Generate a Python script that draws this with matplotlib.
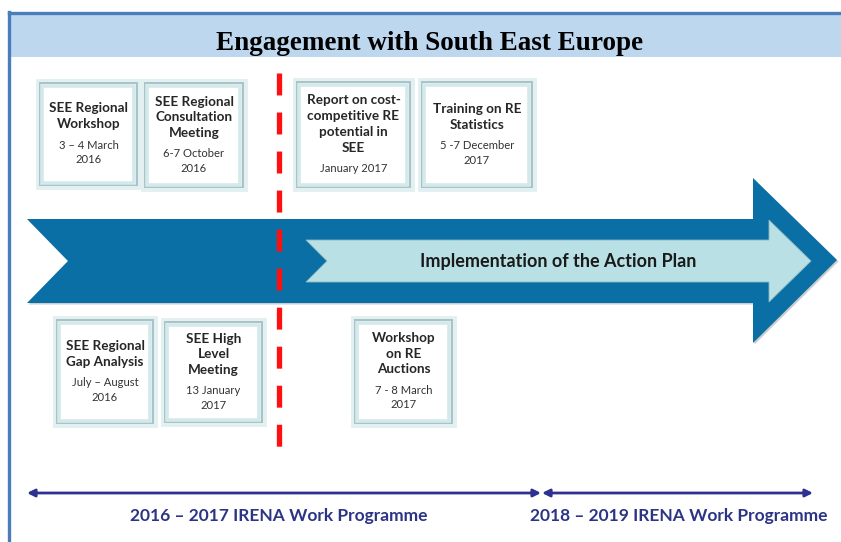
import matplotlib.pyplot as plt
from matplotlib.patches import Polygon, Rectangle, FancyArrowPatch

plt.rcParams['lines.scale_dashes'] = False

# ---- content ----
title = "Engagement with South East Europe"
top_events = ["SEE Regional\nWorkshop", "SEE Regional\nConsultation\nMeeting",
              "Report on cost-\ncompetitive RE\npotential in\nSEE", "Training on RE\nStatistics"]
top_dates = ["3 – 4 March\n2016", "6-7 October\n2016", "January 2017", "5 -7 December\n2017"]
bottom_events = ["SEE Regional\nGap Analysis", "SEE High\nLevel\nMeeting", "Workshop\non RE\nAuctions"]
bottom_dates = ["July – August\n2016", "13 January\n2017", "7 - 8 March\n2017"]
band_label = "Implementation of the Action Plan"
programmes = ["2016 – 2017 IRENA Work Programme", "2018 – 2019 IRENA Work Programme"]

# ---- layout (pixel space) ----
top_boxes = [(40, 83, 97, 102), (145, 83, 98, 104), (297, 82, 113, 105), (422, 82, 110, 105)]
bottom_boxes = [(57, 320, 96, 103), (165, 322, 97, 100), (355, 320, 97, 103)]
prog_spans = [(27, 541), (542, 813)]
prog_text_x = [279, 679]

dark_blue = '#0a6fa5'
light_cyan = '#b8e0e5'
navy = '#2e3192'

fig = plt.figure(figsize=(8.41, 5.42), dpi=100)
ax = fig.add_axes([0, 0, 1, 1])
ax.set_xlim(0, 841)
ax.set_ylim(542, 0)
ax.axis('off')

# header band + frame
header = Rectangle((10, 13), 831, 44, facecolor='#bdd7ee', edgecolor='none', zorder=1)
ax.add_patch(header)
ax.plot([9.5, 9.5], [12, 542], color='#4a7ebb', lw=2.4, zorder=3)
ax.plot([9.5, 841], [12.5, 12.5], color='#4a7ebb', lw=2.4, zorder=3)
t = ax.text(430, 50, title, fontsize=19.5, fontweight='bold', family='Liberation Serif',
            ha='center', va='baseline', color='black', zorder=2)
clip = Rectangle((10, 13), 831, 41, transform=ax.transData)
t.set_clip_path(clip)

# main arrow with soft shadow
big = [(27, 219), (753, 219), (753, 178), (837, 260), (753, 343), (753, 303), (27, 303), (68, 261)]
ax.add_patch(Polygon([(x + 1.5, y + 1.5) for x, y in big], closed=True, facecolor='#9a9a9a',
                     edgecolor='none', alpha=0.5, zorder=2))
ax.add_patch(Polygon(big, closed=True, facecolor=dark_blue, edgecolor='none', zorder=3))
inner = [(306, 240), (769, 240), (769, 220), (811, 261), (769, 302), (769, 282), (306, 282), (327, 261)]
ax.add_patch(Polygon(inner, closed=True, facecolor=light_cyan, edgecolor='#8fb9c0', lw=0.6, zorder=4))
ax.text(558, 262, band_label, fontsize=13.0, fontweight='bold', family='Lato',
        ha='center', va='center', color='#1a1a1a', zorder=5)

# red dashed divider
ax.plot([279.5, 279.5], [73, 447], color='#ff1010', lw=3.8, dashes=(15.8, 12.3),
        solid_capstyle='butt', dash_capstyle='butt', zorder=6)


def draw_box(x, y, w, h, name, date):
    # glow + border
    ax.add_patch(Rectangle((x - 2, y - 2), w + 4, h + 4, facecolor='none',
                           edgecolor='#e2f0f2', lw=3.5, zorder=7))
    ax.add_patch(Rectangle((x, y), w, h, facecolor='white', edgecolor='#a9c2c6', lw=1.4, zorder=7))
    ax.add_patch(Rectangle((x + 2.5, y + 2.5), w - 5, h - 5, facecolor='none',
                           edgecolor='#d3e9ec', lw=2.6, zorder=8))
    nl = name.split('\n')
    dl = date.split('\n')
    span = (len(nl) - 1) * 15.7 + 21 + (len(dl) - 1) * 14.5
    yy = y + h / 2 - span / 2
    cx = x + w / 2
    for line in nl:
        ax.text(cx, yy, line, fontsize=9.7, fontweight='bold', family='Lato',
                ha='center', va='center', color='#262626', zorder=9)
        yy += 15.7
    yy += 21 - 15.7
    for line in dl:
        ax.text(cx, yy, line, fontsize=8.1, family='Lato',
                ha='center', va='center', color='#333333', zorder=9)
        yy += 14.5


for (x, y, w, h), n, d in zip(top_boxes, top_events, top_dates):
    draw_box(x, y, w, h, n, d)
for (x, y, w, h), n, d in zip(bottom_boxes, bottom_events, bottom_dates):
    draw_box(x, y, w, h, n, d)

# work programme arrows
for (x0, x1), tx, lab in zip(prog_spans, prog_text_x, programmes):
    ax.add_patch(FancyArrowPatch((x0, 493), (x1, 493), arrowstyle='<|-|>', mutation_scale=11,
                                 color=navy, lw=2.0, shrinkA=0, shrinkB=0, zorder=5))
    ax.text(tx, 516, lab, fontsize=12.5, fontweight='bold', family='Lato',
            ha='center', va='center', color='#2c3585', zorder=5)

fig.savefig('out.png', dpi=100)
